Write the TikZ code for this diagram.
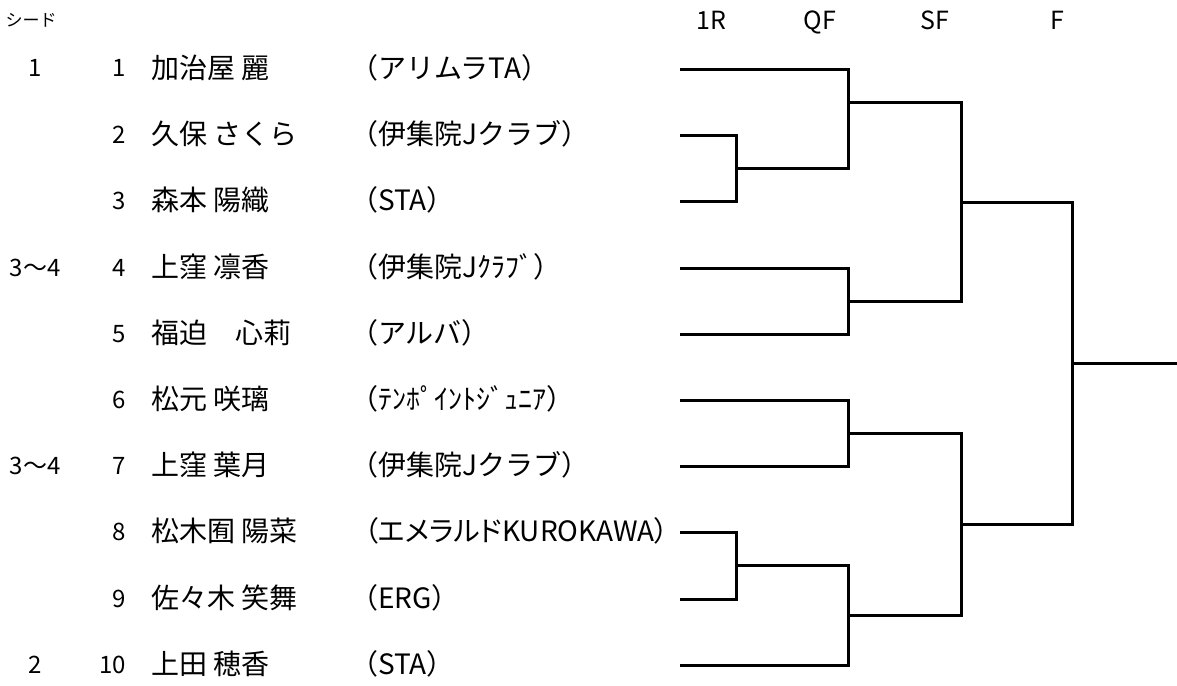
\documentclass[tikz,border=0pt]{standalone}
\usepackage{fontspec}
\setmainfont{Noto Sans CJK JP}[RawFeature=+halt]
\newfontfamily\propkana{Noto Sans CJK JP}[RawFeature={+palt}]
\usetikzlibrary{calc}

\begin{document}
\begin{tikzpicture}[x=1pt,y=-1pt,
  txt/.style={inner sep=0pt,anchor=base,font=\fontsize{24}{28}\selectfont},
  seed/.style={txt,yshift=-8pt},
  num/.style={txt,anchor=base east,yshift=-8pt},
  pname/.style={txt,anchor=base west,yshift=-9.5pt,font=\fontsize{28}{32}\selectfont},
  club/.style={txt,anchor=base west,yshift=-9.5pt,font=\fontsize{28}{32}\selectfont},
  head/.style={txt,font=\fontsize{25}{28}\selectfont}]
\useasboundingbox (0,0) rectangle (1177,685);
%header
\node[head,font=\fontsize{17}{20}\selectfont] (hseed) at (31,27){シード};
\node[head] (h1) at (711,30){1R};
\node[head] (h2) at (820,30){QF};
\node[head] (h3) at (935,30){SF};
\node[head] (h4) at (1057,30){F};
%seeds
\node[seed] (s1) at (35,69){1};
\node[seed] (s4) at (35,268){3〜4};
\node[seed] (s7) at (35,466){3〜4};
\node[seed] (s10) at (35,665){2};
%draw numbers
\node[num] (n1) at (126,69){1};
\node[num] (n2) at (126,135){2};
\node[num] (n3) at (126,201){3};
\node[num] (n4) at (126,268){4};
\node[num] (n5) at (126,334){5};
\node[num] (n6) at (126,400){6};
\node[num] (n7) at (126,466){7};
\node[num] (n8) at (126,532){8};
\node[num] (n9) at (126,599){9};
\node[num] (n10) at (126,665){10};
%names
\node[pname] (a1) at (151,69){加治屋 麗};
\node[pname] (a2) at (151,135){久保 さくら};
\node[pname] (a3) at (151,201){森本 陽織};
\node[pname] (a4) at (151,268){上窪 凛香};
\node[pname] (a5) at (151,334){福迫　心莉};
\node[pname] (a6) at (151,400){松元 咲璃};
\node[pname] (a7) at (151,466){上窪 葉月};
\node[pname] (a8) at (151,532){松木囿 陽菜};
\node[pname] (a9) at (151,599){佐々木 笑舞};
\node[pname] (a10) at (151,665){上田 穂香};
%clubs
\node[club] (c1) at (364,69){（アリムラTA）};
\node[club] (c2) at (364,135){（伊集院Jクラブ）};
\node[club] (c3) at (364,201){（STA）};
\node[club] (c4) at (364,268){（伊集院Jｸﾗﾌﾞ）};
\node[club] (c5) at (364,334){（アルバ）};
\node[club] (c6) at (364,400){（ﾃﾝﾎﾟｲﾝﾄｼﾞｭﾆｱ）};
\node[club] (c7) at (364,466){（伊集院Jクラブ）};
\node[club] (c8) at (364,532){\propkana（エメラルドKUROKAWA）};
\node[club] (c9) at (364,599){（ERG）};
\node[club] (c10) at (364,665){（STA）};
%line ends
\coordinate (p1) at (680,69);
\coordinate (p2) at (680,135);
\coordinate (p3) at (680,201);
\coordinate (p4) at (680,268);
\coordinate (p5) at (680,334);
\coordinate (p6) at (680,400);
\coordinate (p7) at (680,466);
\coordinate (p8) at (680,532);
\coordinate (p9) at (680,599);
\coordinate (p10) at (680,665);
%winners
\coordinate (r23) at (736,168);
\coordinate (r89) at (736,565);
\coordinate (q1) at (848,102);
\coordinate (q45) at (848,301);
\coordinate (q67) at (848,433);
\coordinate (q910) at (848,615);
\coordinate (s1) at (961,202);
\coordinate (s2) at (961,524);
\coordinate (f) at (1072,363);
\coordinate (champ) at (1177,363);
\begin{scope}[line width=3pt]
%1R
\draw (p2) -| (r23) |- (p3);
\draw (p8) -| (r89) |- (p9);
%QF
\draw (p1) -| (q1) |- (r23);
\draw (p4) -| (q45) |- (p5);
\draw (p6) -| (q67) |- (p7);
\draw (r89) -| (q910) |- (p10);
%SF
\draw (q1) -| (s1) |- (q45);
\draw (q67) -| (s2) |- (q910);
%F
\draw (s1) -| (f) |- (s2);
\draw (f) -- (champ);
\end{scope}
\end{tikzpicture}
\end{document}
